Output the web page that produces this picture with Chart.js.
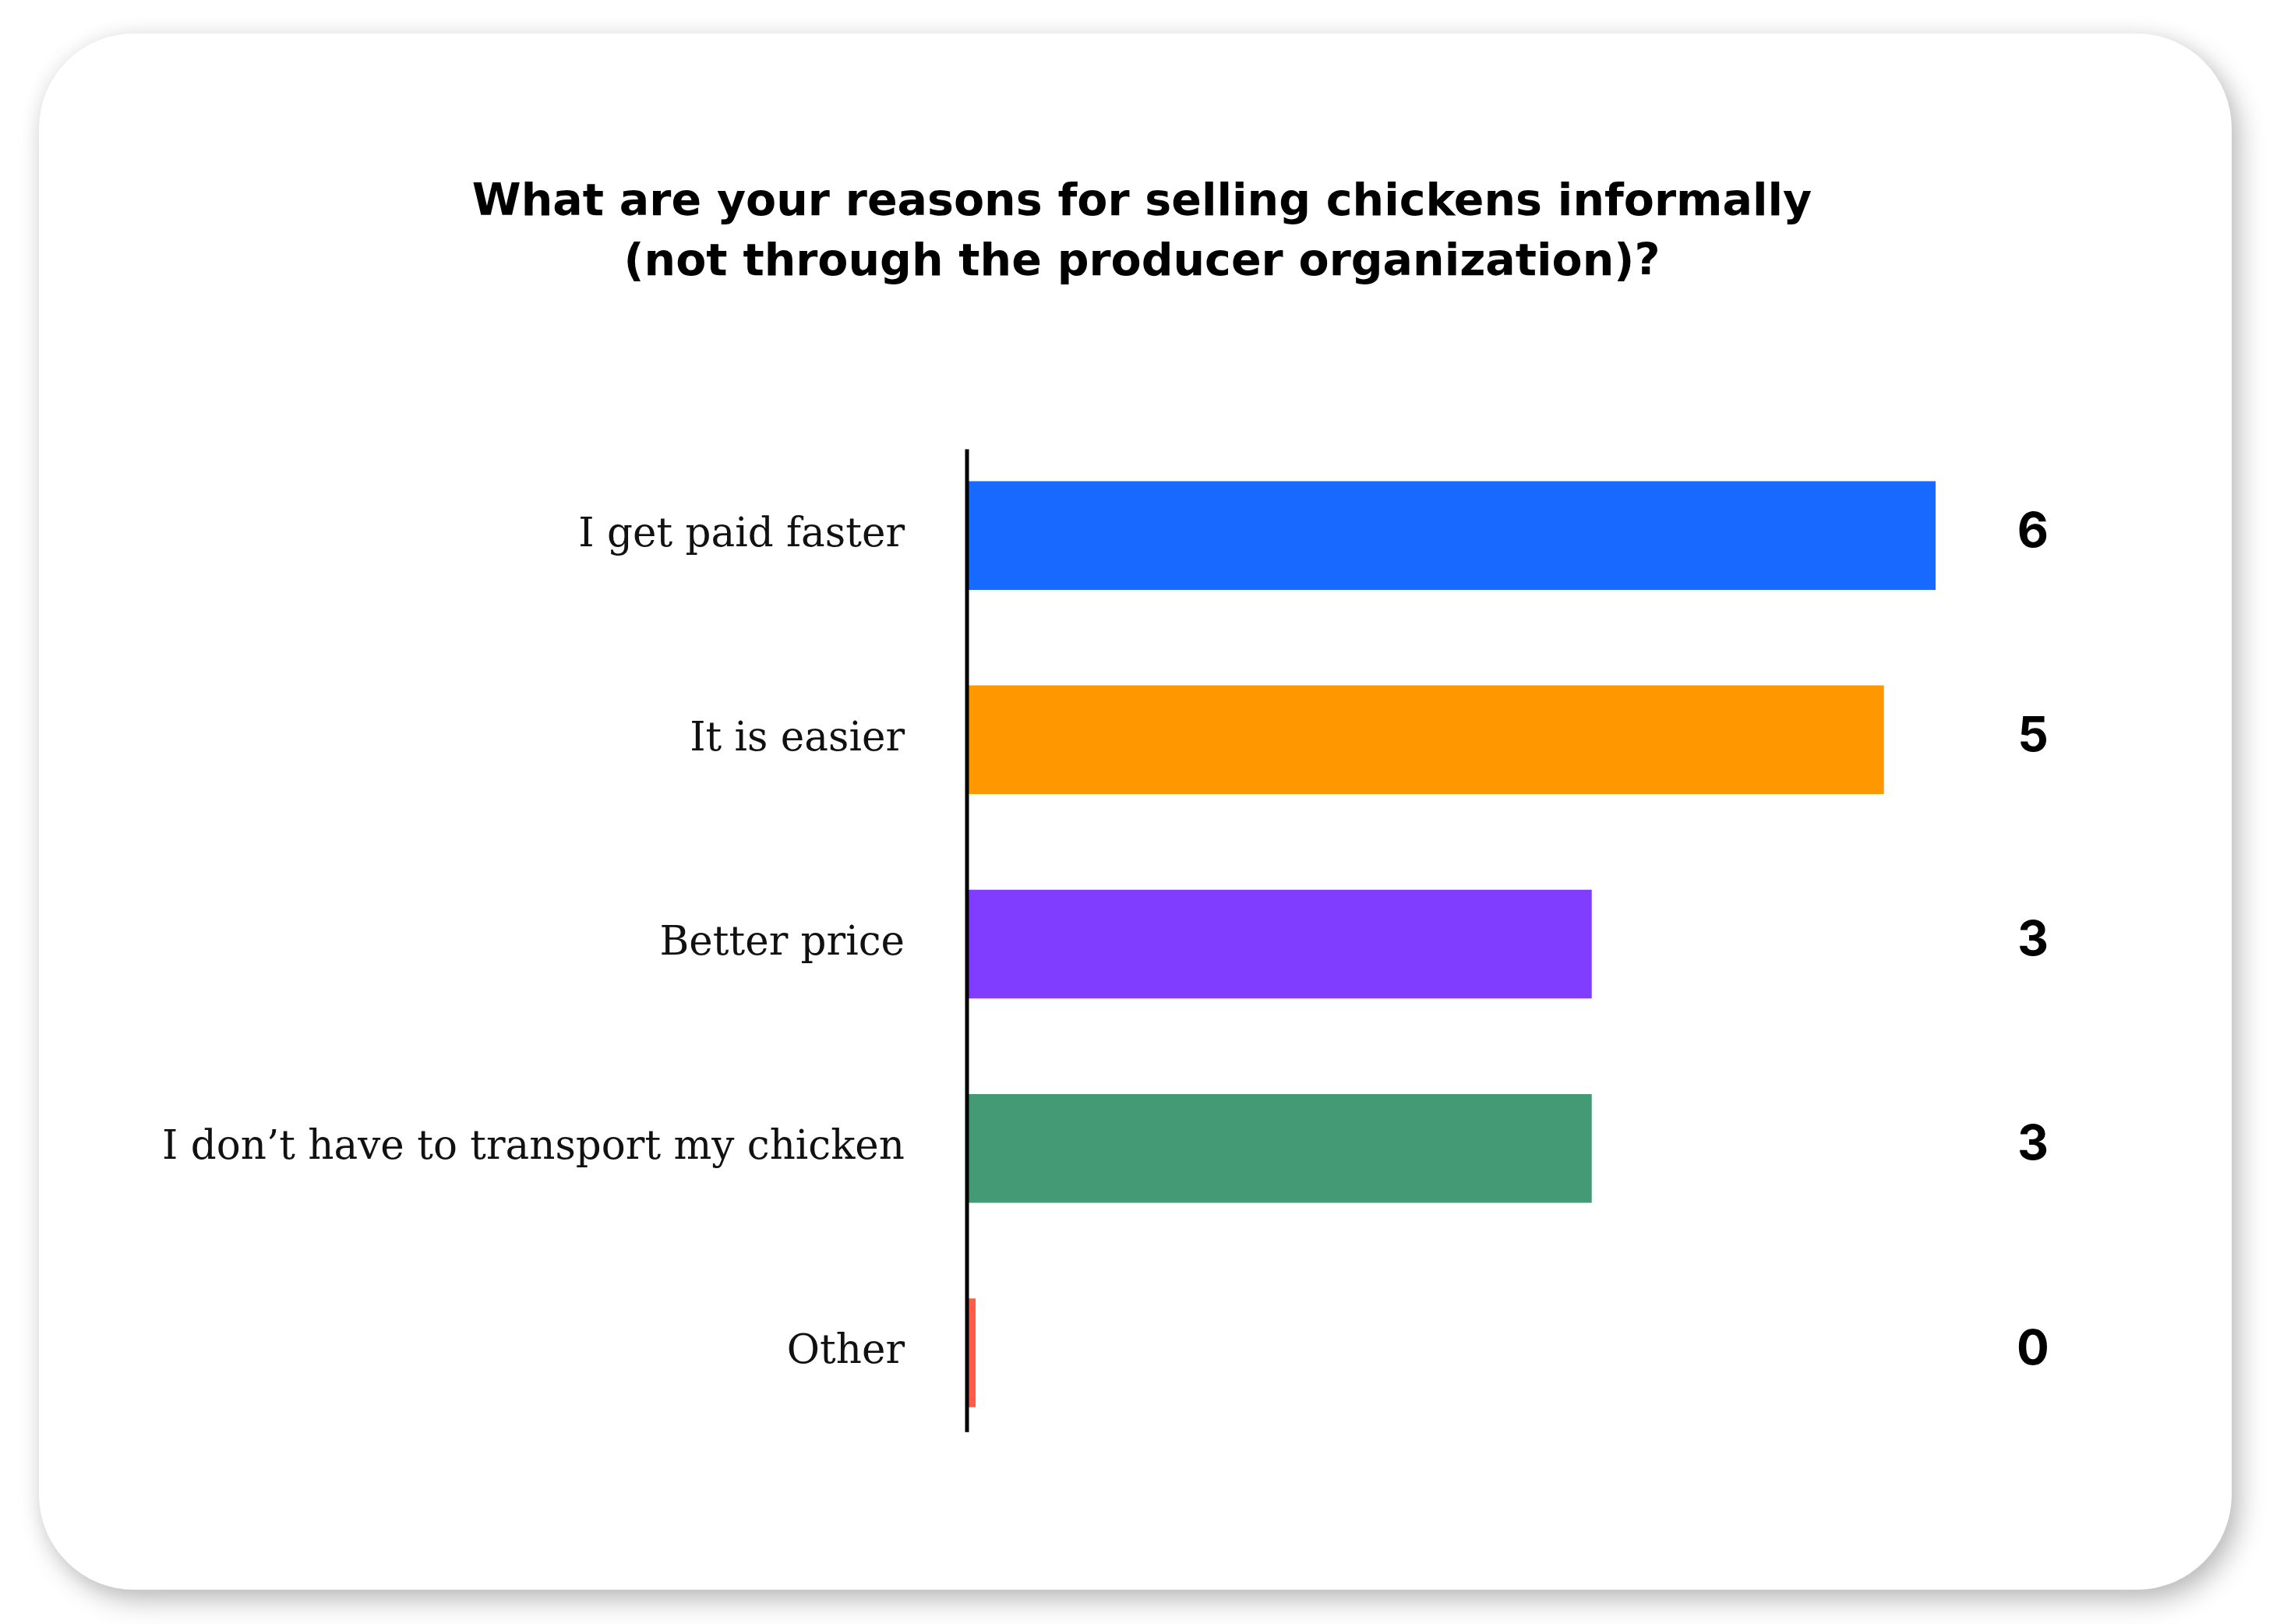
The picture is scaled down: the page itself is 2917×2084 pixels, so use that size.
<!DOCTYPE html>
<html>
<head>
<meta charset="utf-8">
<script src="https://cdn.jsdelivr.net/npm/chart.js@4.4.1/dist/chart.umd.min.js"></script>
<style>
  html, body { margin: 0; padding: 0; width: 2917px; height: 2084px; overflow: hidden; background: #fff; }
  .card {
    position: absolute; left: 50px; top: 43px; width: 2814px; height: 1997px;
    background: #fff; border-radius: 122px;
    box-shadow: 10px 14px 34px rgba(0,0,0,0.26), -2px -2px 26px rgba(0,0,0,0.05);
  }
  .card canvas { display: block; }
</style>
</head>
<body>
<div class="card"><canvas id="reasonsChart" width="2814" height="1997"></canvas></div>
<script>
// categories and answers
const reasons = ['I get paid faster', 'It is easier', 'Better price', 'I don\u2019t have to transport my chicken', 'Other'];
const counts = [6, 5, 3, 3, 0];              // numbers printed at the right
const barLengths = [6, 5.68, 3.87, 3.87, 0]; // bar lengths as drawn in the picture
const barColors = ['#1769ff', '#ff9700', '#803cff', '#459a76', '#ff5b4a'];
const titleLines = ['What are your reasons for selling chickens informally', '(not through the producer organization)?'];

// vertical axis line, a bit past the first and last bar
const axisLine = {
    id: 'axisLine',
    afterDatasetsDraw(chart) {
        const ctx = chart.ctx;
        const bars = chart.getDatasetMeta(0).data;
        const x = chart.scales.x.getPixelForValue(0);
        const first = bars[0], last = bars[bars.length - 1];
        ctx.save();
        ctx.strokeStyle = '#000';
        ctx.lineWidth = 5;
        ctx.beginPath();
        ctx.moveTo(x, first.y - first.height / 2 - 41);
        ctx.lineTo(x, last.y + last.height / 2 + 32);
        ctx.stroke();
        ctx.restore();
    }
};

// prints the count next to each bar, in one column
const countLabels = {
    id: 'countLabels',
    afterDatasetsDraw(chart) {
        const ctx = chart.ctx;
        const meta = chart.getDatasetMeta(0);
        ctx.save();
        ctx.font = '700 62px Inter';
        ctx.fillStyle = '#000';
        ctx.textAlign = 'center';
        ctx.textBaseline = 'middle';
        meta.data.forEach((bar, i) => {
            ctx.fillText(String(counts[i]), chart.chartArea.right + 125, bar.y - 4);
        });
        ctx.restore();
    }
};

new Chart(document.getElementById('reasonsChart'), {
    type: 'bar',
    data: {
        labels: reasons,
        datasets: [{
            data: barLengths,
            backgroundColor: barColors,
            borderWidth: 0,
            categoryPercentage: 1,
            barPercentage: 0.532,
            minBarLength: 11
        }]
    },
    options: {
        indexAxis: 'y',
        responsive: false,
        animation: false,
        devicePixelRatio: 1,
        layout: {
            padding: { top: 179, bottom: 173, left: 140, right: 123 }
        },
        plugins: {
            legend: { display: false },
            tooltip: { enabled: false },
            title: {
                display: true,
                text: titleLines,
                color: '#000',
                font: { family: 'DejaVu Sans', weight: 'bold', size: 57, lineHeight: 1.36 },
                padding: { top: 0, bottom: 179 }
            }
        },
        scales: {
            x: {
                display: false,
                min: 0,
                max: 6
            },
            y: {
                grid: { display: false, drawTicks: false },
                border: { display: false },
                ticks: {
                    color: '#111',
                    font: { family: 'DejaVu Serif', size: 51.5 },
                    padding: 80
                },
                afterFit: function (scale) {
                    scale.width = 1051;
                }
            },
            // empty axis on the right, only keeps room for the count column
            yRight: {
                type: 'category',
                position: 'right',
                grid: { display: false, drawTicks: false },
                border: { display: false },
                ticks: { display: false },
                afterFit: function (scale) {
                    scale.width = 257;
                }
            }
        }
    },
    plugins: [axisLine, countLabels]
});
</script>
</body>
</html>
